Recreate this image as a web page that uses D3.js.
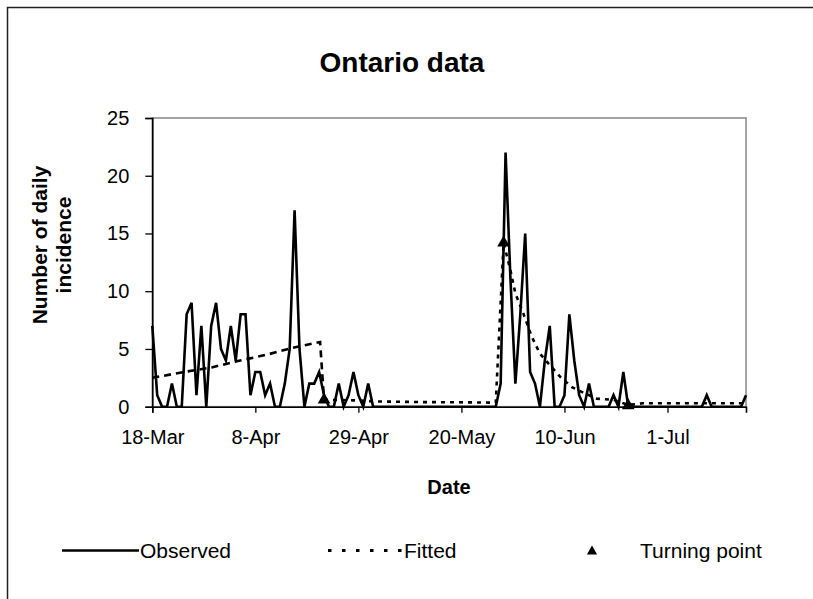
<!DOCTYPE html>
<html>
<head>
<meta charset="utf-8">
<script src="https://cdn.jsdelivr.net/npm/d3@7"></script>
<style>
  html, body { margin: 0; padding: 0; background: #fff; }
  svg { display: block; }
  text { font-family: "Liberation Sans", Arial, sans-serif; fill: #000; }
</style>
</head>
<body>
<svg id="chart" width="813" height="599"></svg>
<script>
// Daily observed incidence, one value per day starting 18 March
const startDate = "2003-03-18";
const observedCounts = [
  7, 1, 0, 0, 2, 0, 0, 8, 9, 1,
  7, 0, 7, 9, 5, 4, 7, 4, 8, 8,
  1, 3, 3, 1, 2, 0, 0, 2, 5, 17,
  5, 0, 2, 2, 3, 1, 0, 0, 2, 0,
  1, 3, 1, 0, 2, 0, 0, 0, 0, 0,
  0, 0, 0, 0, 0, 0, 0, 0, 0, 0,
  0, 0, 0, 0, 0, 0, 0, 0, 0, 0,
  0, 2, 22, 11, 2, 8, 15, 3, 2, 0,
  4, 7, 0, 0, 1, 8, 4, 1, 0, 2,
  0, 0, 0, 0, 1, 0, 3, 0, 0, 0,
  0, 0, 0, 0, 0, 0, 0, 0, 0, 0,
  0, 0, 0, 1, 0, 0, 0, 0, 0, 0,
  0, 1
];

// Fitted curve: day offset from start and fitted value, one list per phase
const fittedGrowthDays   = [0, 6.4, 12.1, 17.9, 23.3, 28.1, 34.2, 35.0];
const fittedGrowthValues = [2.5, 3.0, 3.4, 4.0, 4.5, 5.05, 5.6, 0.6];
const fittedDecayDays    = [35.0, 37, 41, 46, 55, 63, 70, 71.6, 73.0, 74.0, 75.6, 77.3, 79.0, 80.7, 83.1, 85.5, 87.9, 90.6, 94.0, 97.0, 100, 110, 121];
const fittedDecayValues  = [0.6, 0.58, 0.55, 0.45, 0.4, 0.38, 0.35, 14.2, 11.8, 9.8, 8.1, 6.1, 4.6, 3.75, 2.6, 1.7, 1.2, 0.7, 0.6, 0.15, 0.3, 0.3, 0.3];

// Turning points
const turningDays   = [35.0, 71.6, 97.0];
const turningValues = [0.6, 14.2, 0.1];

// Axis ticks
const xTickLabels = ["18-Mar", "8-Apr", "29-Apr", "20-May", "10-Jun", "1-Jul"];
const xTickDates  = ["2003-03-18", "2003-04-08", "2003-04-29", "2003-05-20", "2003-06-10", "2003-07-01"];
const yTickValues = [0, 5, 10, 15, 20, 25];

const svg = d3.select("#chart");
const parse = d3.utcParse("%Y-%m-%d");
const t0 = parse(startDate);
const dayToDate = d => new Date(t0.getTime() + d * 86400000);

const plot = { left: 152.3, right: 746, top: 118, bottom: 406.7 };

const x = d3.scaleUtc()
  .domain([t0, dayToDate(observedCounts.length - 1)])
  .range([plot.left, plot.right]);

const y = d3.scaleLinear()
  .domain([0, 25])
  .range([plot.bottom, plot.top]);

// outer chart frame (top and left edges visible)
svg.append("path")
  .attr("d", `M7.5,${599} V7.5 H${813}`)
  .attr("fill", "none")
  .attr("stroke", "#222")
  .attr("stroke-width", 1.5);

// plot-area frame
svg.append("rect")
  .attr("x", plot.left).attr("y", plot.top)
  .attr("width", plot.right - plot.left)
  .attr("height", plot.bottom - plot.top)
  .attr("fill", "none")
  .attr("stroke", "#8c8c8c")
  .attr("stroke-width", 1.6);

// title
svg.append("text")
  .attr("x", 402).attr("y", 72)
  .attr("text-anchor", "middle")
  .style("font-size", "28px").style("font-weight", "bold")
  .text("Ontario data");

// y axis
const yAxis = svg.append("g")
  .attr("transform", `translate(${plot.left},0)`)
  .call(d3.axisLeft(y).tickValues(yTickValues).tickSize(7).tickPadding(16).tickFormat(d3.format("d")));
yAxis.selectAll("text").style("font-size", "20px");
yAxis.select(".domain").attr("stroke", "#000").attr("stroke-width", 1.6);
yAxis.selectAll(".tick line").attr("stroke", "#000").attr("stroke-width", 1.3);

// x axis
const xLabelFor = new Map(xTickDates.map((d, i) => [+parse(d), xTickLabels[i]]));
const xAxis = svg.append("g")
  .attr("transform", `translate(0,${plot.bottom})`)
  .call(d3.axisBottom(x).tickValues(xTickDates.map(parse)).tickSize(6).tickPadding(17)
    .tickFormat(d => xLabelFor.get(+d)));
xAxis.selectAll("text").style("font-size", "20px");
xAxis.select(".domain").attr("stroke", "#000").attr("stroke-width", 1.6);
xAxis.selectAll(".tick line").attr("stroke", "#000").attr("stroke-width", 1.3);

// axis titles
svg.append("text")
  .attr("x", 449).attr("y", 494)
  .attr("text-anchor", "middle")
  .style("font-size", "20px").style("font-weight", "bold")
  .text("Date");

const yTitle = svg.append("text")
  .attr("transform", "translate(0,245) rotate(-90)")
  .attr("text-anchor", "middle")
  .style("font-size", "21px").style("font-weight", "bold");
yTitle.append("tspan").attr("x", 0).attr("y", 47).text("Number of daily");
yTitle.append("tspan").attr("x", 0).attr("y", 71).text("incidence");

// series
const line = d3.line().x(d => x(d[0])).y(d => y(d[1]));

const observed = observedCounts.map((v, i) => [dayToDate(i), v]);
const growth = fittedGrowthDays.map((d, i) => [dayToDate(d), fittedGrowthValues[i]]);
const decay = fittedDecayDays.map((d, i) => [dayToDate(d), fittedDecayValues[i]]);

svg.append("path")
  .datum(growth)
  .attr("d", line)
  .attr("fill", "none")
  .attr("stroke", "#000")
  .attr("stroke-width", 2.6)
  .attr("stroke-dasharray", "7,5");

svg.append("path")
  .datum(decay)
  .attr("d", line)
  .attr("fill", "none")
  .attr("stroke", "#000")
  .attr("stroke-width", 2.6)
  .attr("stroke-dasharray", "4,5");

svg.append("path")
  .datum(observed)
  .attr("d", line)
  .attr("fill", "none")
  .attr("stroke", "#000")
  .attr("stroke-width", 2.6)
  .attr("stroke-linejoin", "miter")
  .attr("stroke-miterlimit", 4);

const tri = d3.symbol().type(d3.symbolTriangle).size(70);
svg.append("g").selectAll("path")
  .data(turningDays.map((d, i) => [dayToDate(d), turningValues[i]]))
  .join("path")
  .attr("d", tri)
  .attr("transform", d => `translate(${x(d[0])},${y(d[1])})`)
  .attr("fill", "#000");

// legend
const ly = 550.5;
const legend = svg.append("g").style("font-size", "21px");
legend.append("line")
  .attr("x1", 62).attr("x2", 139).attr("y1", ly).attr("y2", ly)
  .attr("stroke", "#000").attr("stroke-width", 2.6);
legend.append("text").attr("x", 140).attr("y", ly + 7.5).text("Observed");
legend.append("line")
  .attr("x1", 328).attr("x2", 404).attr("y1", ly).attr("y2", ly)
  .attr("stroke", "#000").attr("stroke-width", 3)
  .attr("stroke-dasharray", "3.5,10.5");
legend.append("text").attr("x", 404).attr("y", ly + 7.5).text("Fitted");
legend.append("path")
  .attr("d", d3.symbol().type(d3.symbolTriangle).size(45))
  .attr("transform", `translate(592,${ly + 1})`)
  .attr("fill", "#000");
legend.append("text").attr("x", 640).attr("y", ly + 7.5).text("Turning point");
</script>
</body>
</html>
